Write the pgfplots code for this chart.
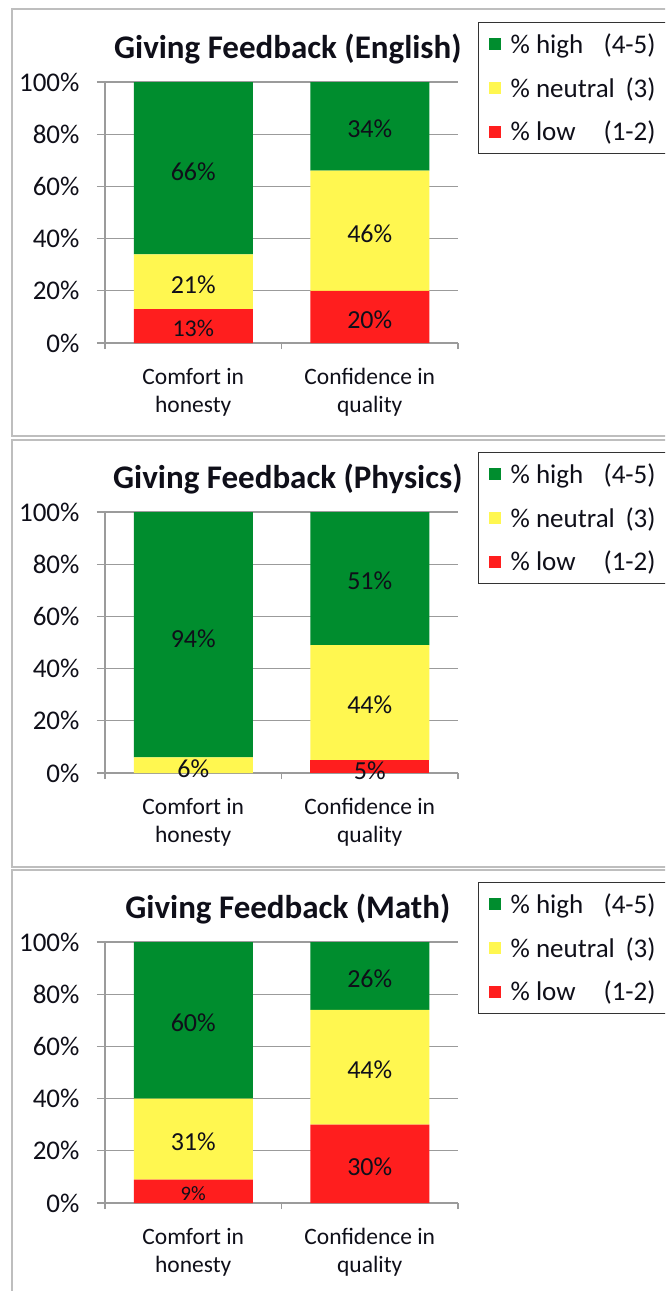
\documentclass[border=0pt]{standalone}
\usepackage{pgfplots}
\pgfplotsset{compat=1.18}
\usepackage{fontspec}
\setmainfont{Carlito}
\definecolor{cgreen}{RGB}{0,141,46}
\definecolor{cyellow}{RGB}{255,247,80}
\definecolor{cred}{RGB}{255,30,30}
\definecolor{ctext}{RGB}{15,15,25}
\definecolor{cgrid}{RGB}{155,155,155}
\definecolor{cframe}{RGB}{190,190,190}
\newcommand\tfs{\fontsize{27}{32}\selectfont}
\newcommand\vfs{\fontsize{26}{30}\selectfont}
\newcommand\sfs{\fontsize{24}{28}\selectfont}
\newcommand\ssfs{\fontsize{20.5}{24}\selectfont}
\newcommand\xfs{\fontsize{23.5}{28}\selectfont}
\newcommand\lfs{\fontsize{27}{30}\selectfont}
\pgfplotsset{
  panel/.style={
    scale only axis, width=353pt, height=261pt,
    anchor=south west,
    xmin=-0.5, xmax=1.5, ymin=0, ymax=100,
    enlarge x limits=false, enlarge y limits=false,
    ybar stacked, bar width=119pt,
    axis x line*=bottom, axis y line*=left,
    axis line style={draw=cgrid, line width=1.2pt},
    every tick/.style={draw=cgrid, line width=1.2pt},
    tick align=outside,
    major tick length=8pt, minor tick length=6pt,
    ytick={0,20,40,60,80,100},
    yticklabel={\pgfmathprintnumber{\tick}\%},
    /pgf/number format/assume math mode=true,
    yticklabel style={font=\tfs, text=ctext, anchor=east, xshift=-14pt},
    ymajorgrids, grid style={draw=cgrid, line width=1.2pt},
    xtick={0,1},
    xticklabels={{Comfort in\\honesty},{Confidence in\\quality}},
    major x tick style={draw=none},
    minor xtick={-0.5,0.5,1.5},
    xticklabel style={font=\xfs, text=ctext, align=center, anchor=north, yshift=-14pt},
    title style={font=\fontsize{33}{36}\selectfont\bfseries, text=ctext, at={(0.518,1.103)}, anchor=center},
    reverse legend,
    legend style={at={(1.0567,1.2299)}, anchor=north west, draw=black!80, line width=1.2pt,
      font=\lfs, text=ctext, row sep=18.5pt, inner xsep=10pt, inner ysep=9pt,
      cells={anchor=west}},
    legend image code/.code={\path[##1, draw=none] (0pt,-6pt) rectangle (12pt,6pt);},
    every axis plot/.append style={draw=none},
    clip=false,
  },
  labels/.style={
    scale only axis, width=353pt, height=261pt,
    anchor=south west,
    xmin=-0.5, xmax=1.5, ymin=0, ymax=100,
    hide axis, clip=false,
  },
}
\newcommand\legH{\makebox[153pt]{\hspace{8pt}\% high\hfill(4-5)}}
\newcommand\legN{\makebox[153pt]{\hspace{8pt}\% neutral\hfill(3)}}
\newcommand\legL{\makebox[153pt]{\hspace{8pt}\% low\hfill(1-2)}}
\begin{document}
\begin{tikzpicture}[x=1pt,y=1pt]
\path[use as bounding box] (0,0) rectangle (665,-1291);
\clip (0,0) rectangle (665,-1291);
\fill[white] (0,0) rectangle (665,-1291);
% panel frames
\draw[cframe, line width=2pt] (12,-9) rectangle (700,-436);
\draw[cframe, line width=2pt] (12,-440) rectangle (700,-867);
\draw[cframe, line width=2pt] (12,-870) rectangle (700,-1320);

% ---------- English ----------
\begin{axis}[panel, at={(105pt,-343pt)}, title={Giving Feedback (English)}]
\addplot[fill=cred] coordinates {(0,13) (1,20)};
\addplot[fill=cyellow] coordinates {(0,21) (1,46)};
\addplot[fill=cgreen] coordinates {(0,66) (1,34)};
\legend{\legL,\legN,\legH}
\end{axis}
\begin{axis}[labels, at={(105pt,-343pt)}]
\node[font=\sfs, text=ctext] at (axis cs:0,5.5) {13\%};
\node[font=\vfs, text=ctext] at (axis cs:0,22.5) {21\%};
\node[font=\vfs, text=ctext] at (axis cs:0,65.5) {66\%};
\node[font=\vfs, text=ctext] at (axis cs:1,9) {20\%};
\node[font=\vfs, text=ctext] at (axis cs:1,42) {46\%};
\node[font=\vfs, text=ctext] at (axis cs:1,82) {34\%};
\end{axis}

% ---------- Physics ----------
\begin{axis}[panel, at={(105pt,-773pt)}, title={Giving Feedback (Physics)}]
\addplot[fill=cred] coordinates {(0,0) (1,5)};
\addplot[fill=cyellow] coordinates {(0,6) (1,44)};
\addplot[fill=cgreen] coordinates {(0,94) (1,51)};
\legend{\legL,\legN,\legH}
\end{axis}
\begin{axis}[labels, at={(105pt,-773pt)}]
\node[font=\vfs, text=ctext] at (axis cs:0,1.5) {6\%};
\node[font=\vfs, text=ctext] at (axis cs:0,51.5) {94\%};
\node[font=\vfs, text=ctext] at (axis cs:1,0.8) {5\%};
\node[font=\vfs, text=ctext] at (axis cs:1,26) {44\%};
\node[font=\vfs, text=ctext] at (axis cs:1,73.5) {51\%};
\end{axis}

% ---------- Math ----------
\begin{axis}[panel, at={(105pt,-1203pt)}, title={Giving Feedback (Math)}]
\addplot[fill=cred] coordinates {(0,9) (1,30)};
\addplot[fill=cyellow] coordinates {(0,31) (1,44)};
\addplot[fill=cgreen] coordinates {(0,60) (1,26)};
\legend{\legL,\legN,\legH}
\end{axis}
\begin{axis}[labels, at={(105pt,-1203pt)}]
\node[font=\ssfs, text=ctext] at (axis cs:0,3.8) {9\%};
\node[font=\vfs, text=ctext] at (axis cs:0,23.5) {31\%};
\node[font=\vfs, text=ctext] at (axis cs:0,69) {60\%};
\node[font=\vfs, text=ctext] at (axis cs:1,14) {30\%};
\node[font=\vfs, text=ctext] at (axis cs:1,51) {44\%};
\node[font=\vfs, text=ctext] at (axis cs:1,86) {26\%};
\end{axis}
\end{tikzpicture}
\end{document}
